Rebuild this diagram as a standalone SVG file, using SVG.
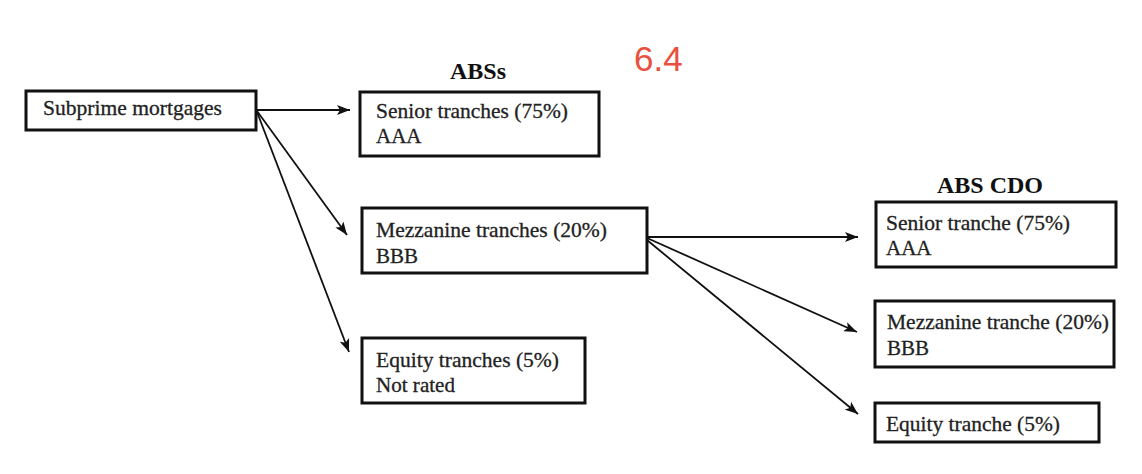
<svg xmlns="http://www.w3.org/2000/svg" width="1142" height="474" viewBox="0 0 1142 474">
<style>
.box{fill:#fff;stroke:#111;stroke-width:3}
.t{font-family:"Liberation Serif","Times New Roman",serif;font-size:21px;fill:#222;stroke:#222;stroke-width:0.3}
.h{font-family:"Liberation Serif","Times New Roman",serif;font-size:24px;font-weight:bold;fill:#111;text-anchor:middle}
.c{stroke:#111;stroke-width:1.8;fill:none;marker-end:url(#ah)}
</style>
<defs>
<marker id="ah" markerUnits="userSpaceOnUse" markerWidth="14" markerHeight="10" refX="13" refY="5" orient="auto">
<path d="M0,0 L13,5 L0,10 L3,5 Z" fill="#111"/>
</marker>
</defs>
<rect width="1142" height="474" fill="#fff"/>
<text x="634" y="71" font-family="'Liberation Sans',Arial,sans-serif" font-size="35" fill="#e9503e">6.4</text>
<text class="h" x="478" y="79">ABSs</text>
<text class="h" x="990" y="193">ABS CDO</text>
<g id="connectors">
<path class="c" d="M256,110 L350,110"/>
<path class="c" d="M257,111 L347,235"/>
<path class="c" d="M257,112 L349,352"/>
<path class="c" d="M647,237 L858,237"/>
<path class="c" d="M647,238 L857,332"/>
<path class="c" d="M647,240 L858,414"/>
</g>
<g id="subprime">
<rect class="box" x="26" y="91" width="230" height="39"/>
<text class="t" x="43" y="115" textLength="179" lengthAdjust="spacingAndGlyphs">Subprime mortgages</text>
</g>
<g id="abs-senior">
<rect class="box" x="360" y="92" width="239" height="64"/>
<text class="t" x="376" y="118" textLength="192" lengthAdjust="spacingAndGlyphs">Senior tranches (75%)</text>
<text class="t" x="376" y="143">AAA</text>
</g>
<g id="abs-mezz">
<rect class="box" x="362" y="208" width="285" height="65"/>
<text class="t" x="376" y="237" textLength="231" lengthAdjust="spacingAndGlyphs">Mezzanine tranches (20%)</text>
<text class="t" x="376" y="263">BBB</text>
</g>
<g id="abs-equity">
<rect class="box" x="362" y="338" width="223" height="65"/>
<text class="t" x="376" y="367" textLength="183" lengthAdjust="spacingAndGlyphs">Equity tranches (5%)</text>
<text class="t" x="376" y="392" textLength="79" lengthAdjust="spacingAndGlyphs">Not rated</text>
</g>
<g id="cdo-senior">
<rect class="box" x="876" y="202" width="240" height="65"/>
<text class="t" x="886" y="230" textLength="184" lengthAdjust="spacingAndGlyphs">Senior tranche (75%)</text>
<text class="t" x="886" y="255">AAA</text>
</g>
<g id="cdo-mezz">
<rect class="box" x="875" y="301" width="239" height="66"/>
<text class="t" x="887" y="329" textLength="222" lengthAdjust="spacingAndGlyphs">Mezzanine tranche (20%)</text>
<text class="t" x="887" y="355">BBB</text>
</g>
<g id="cdo-equity">
<rect class="box" x="875" y="403" width="224" height="39"/>
<text class="t" x="886" y="431" textLength="174" lengthAdjust="spacingAndGlyphs">Equity tranche (5%)</text>
</g>
</svg>
